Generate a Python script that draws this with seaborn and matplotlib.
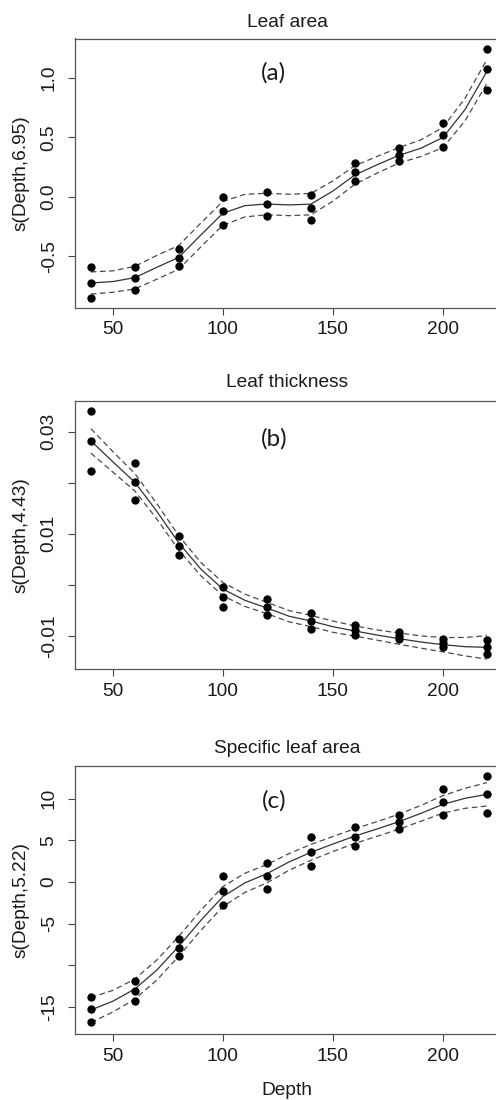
import matplotlib
matplotlib.use("Agg")
import matplotlib.pyplot as plt
import pandas as pd
import seaborn as sns

# ---------------- data ----------------
depth_levels = [40, 60, 80, 100, 120, 140, 160, 180, 200, 220]

# partial residuals, three per depth (upper / middle / lower point)
area_obs_hi = [-0.591, -0.591, -0.440, 0.000, 0.039, 0.014, 0.286, 0.412, 0.619, 1.246]
area_obs_mid = [-0.723, -0.683, -0.513, -0.118, -0.059, -0.092, 0.213, 0.356, 0.518, 1.073]
area_obs_lo = [-0.852, -0.782, -0.583, -0.232, -0.162, -0.193, 0.137, 0.300, 0.417, 0.896]

thick_obs_hi = [0.0340, 0.0239, 0.00958, -0.00046, -0.00281, -0.00555, -0.0078, -0.0092, -0.0105, -0.01077]
thick_obs_mid = [0.0282, 0.0202, 0.00769, -0.00242, -0.00438, -0.00705, -0.0088, -0.0100, -0.0113, -0.01214]
thick_obs_lo = [0.0224, 0.0166, 0.00580, -0.00438, -0.00594, -0.00855, -0.0097, -0.0106, -0.0121, -0.01351]

sla_obs_hi = [-13.76, -11.84, -6.88, 0.72, 2.28, 5.36, 6.64, 8.00, 11.16, 12.76]
sla_obs_mid = [-15.28, -13.08, -7.88, -1.04, 0.72, 3.64, 5.44, 7.16, 9.60, 10.52]
sla_obs_lo = [-16.76, -14.28, -8.92, -2.80, -0.84, 1.96, 4.28, 6.32, 8.08, 8.24]

# smooth fits and half-width of the dashed confidence band
fit_depth = [40, 50, 60, 70, 80, 90, 100, 110, 120, 130, 140, 150, 160, 170, 180, 190, 200, 210, 220]

area_fit = [-0.723, -0.711, -0.678, -0.591, -0.507, -0.319, -0.137, -0.073, -0.059, -0.067, -0.060,
            0.050, 0.185, 0.270, 0.350, 0.410, 0.500, 0.734, 1.056]
area_band = [0.093, 0.090, 0.095, 0.100, 0.100, 0.100, 0.100, 0.095, 0.090, 0.090, 0.090,
             0.085, 0.078, 0.070, 0.065, 0.070, 0.085, 0.095, 0.100]

thick_fit = [0.0282, 0.0241, 0.0201, 0.0144, 0.0082, 0.0031, -0.0008, -0.00300, -0.00450, -0.00610,
             -0.00705, -0.00816, -0.00900, -0.00979, -0.01050, -0.01116, -0.01168, -0.01207, -0.01220]
thick_band = [0.0024, 0.0020, 0.0017, 0.0015, 0.0014, 0.0013, 0.0013, 0.0012, 0.0011, 0.0011,
              0.0011, 0.0011, 0.0010, 0.0010, 0.0011, 0.0012, 0.0014, 0.0018, 0.0023]

sla_fit = [-15.36, -14.30, -12.84, -10.56, -7.70, -4.60, -1.75, -0.10, 1.00, 2.40,
           3.56, 4.56, 5.52, 6.36, 7.24, 8.24, 9.32, 10.04, 10.52]
sla_band = [1.50, 1.30, 1.20, 1.20, 1.20, 1.20, 1.20, 1.15, 1.10, 1.00,
            0.95, 0.90, 0.88, 0.88, 0.90, 0.95, 1.05, 1.20, 1.40]

titles = ["Leaf area", "Leaf thickness", "Specific leaf area"]
ylabels = ["s(Depth,6.95)", "s(Depth,4.43)", "s(Depth,5.22)"]
panel_tags = ["(a)", "(b)", "(c)"]
x_ticks = [50, 100, 150, 200]
y_ticks = [[-0.5, 0.0, 0.5, 1.0], [-0.01, 0.0, 0.01, 0.02, 0.03], [-15, -10, -5, 0, 5, 10]]
y_ticklabels = [["-0.5", "0.0", "0.5", "1.0"], ["-0.01", "", "0.01", "", "0.03"],
                ["-15", "", "-5", "0", "5", "10"]]
y_limits = [(-0.929, 1.332), (-0.01638, 0.0360), (-18.2, 13.92)]
x_limits = (32.8, 227.2)

# ---------------- styling ----------------
sns.set_style("white")
plt.rcParams["font.family"] = ["Liberation Sans", "DejaVu Sans"]
TXT = "#1a1a1a"
FS = 13.8

W, H = 496, 1100
fig = plt.figure(figsize=(W / 100, H / 100), dpi=100)


def rect(top, bottom, left=75.0, right=502.8):
    return [left / W, 1 - bottom / H, (right - left) / W, (bottom - top) / H]


axes_px = [(38.5, 307.5), (401.0, 668.7), (766.0, 1033.7)]
title_base = [26.7, 387.3, 753.3]
tag_pos = [(0.463, 0.872), (0.466, 0.858), (0.466, 0.871)]

obs_sets = [(area_obs_hi, area_obs_mid, area_obs_lo),
            (thick_obs_hi, thick_obs_mid, thick_obs_lo),
            (sla_obs_hi, sla_obs_mid, sla_obs_lo)]
fit_sets = [(area_fit, area_band), (thick_fit, thick_band), (sla_fit, sla_band)]

for i in range(3):
    top, bottom = axes_px[i]
    ax = fig.add_axes(rect(top, bottom))

    hi, mid, lo = obs_sets[i]
    obs = pd.DataFrame({
        "Depth": depth_levels * 3,
        "value": list(hi) + list(mid) + list(lo),
    })
    fit, band = fit_sets[i]
    curve = pd.DataFrame({
        "Depth": fit_depth,
        "fit": fit,
        "upper": [f + b for f, b in zip(fit, band)],
        "lower": [f - b for f, b in zip(fit, band)],
    })

    sns.lineplot(data=curve, x="Depth", y="fit", ax=ax, color="#333333", lw=0.9,
                 errorbar=None)
    for col in ("upper", "lower"):
        sns.lineplot(data=curve, x="Depth", y=col, ax=ax, color="#4a4a4a", lw=0.9,
                     linestyle=(0, (4.5, 2.8)), errorbar=None)
    sns.scatterplot(data=obs, x="Depth", y="value", ax=ax, color="black", s=36,
                    linewidth=0, zorder=3)

    ax.set_xlim(*x_limits)
    ax.set_ylim(*y_limits[i])
    ax.set_xticks(x_ticks)
    ax.set_xticklabels([str(t) for t in x_ticks])
    ax.set_yticks(y_ticks[i])
    ax.set_yticklabels(y_ticklabels[i])
    ax.set_xlabel("")
    ax.set_ylabel("")
    ax.tick_params(axis="both", which="major", direction="out", length=5, width=0.8,
                   color="#444444", labelsize=FS, labelcolor=TXT,
                   bottom=True, left=True, top=False, right=False)
    ax.tick_params(axis="x", pad=5)
    ax.tick_params(axis="y", pad=7.5)
    for lab in ax.get_yticklabels():
        lab.set_rotation(90)
        lab.set_va("center")
    for sp in ax.spines.values():
        sp.set_visible(True)
        sp.set_color("#555555")
        sp.set_linewidth(0.9)

    ax.text(tag_pos[i][0], tag_pos[i][1], panel_tags[i], transform=ax.transAxes,
            ha="center", va="center", fontsize=17.5, color=TXT,
            family=["Lato", "DejaVu Sans"])

    fig.text(287 / W, 1 - title_base[i] / H, titles[i], ha="center", va="baseline",
             fontsize=FS, color=TXT)
    fig.text(21 / W, 1 - ((top + bottom) / 2) / H, ylabels[i], rotation=90,
             ha="center", va="center", fontsize=FS, color=TXT)

fig.text(287 / W, 1 - 1095 / H, "Depth", ha="center", va="baseline", fontsize=FS, color=TXT)

fig.savefig("out.png", dpi=100)
